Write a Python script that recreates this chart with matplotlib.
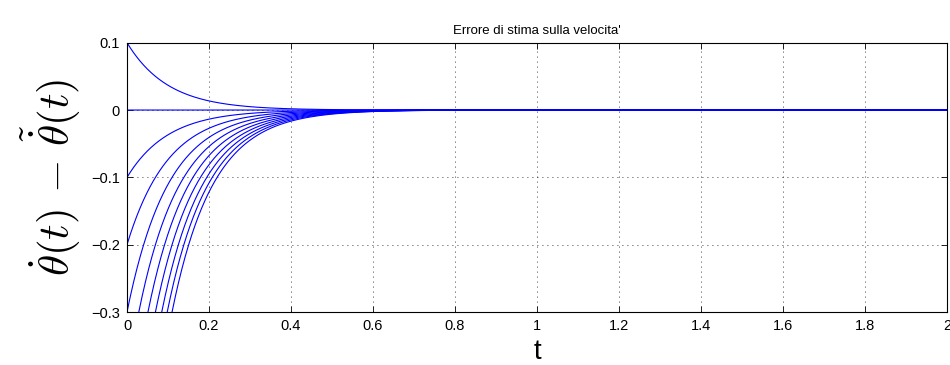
import numpy as np
import matplotlib
matplotlib.use("Agg")
import matplotlib.pyplot as plt

# valori iniziali dell'errore di stima (uno per curva)
initial_errors = [0.1, 0.0, -0.1, -0.2, -0.3, -0.4, -0.5, -0.6, -0.7, -0.8, -0.9]
decay_rate = 10.0   # costante di decadimento
t_end = 2.0

x_ticks = [0, 0.2, 0.4, 0.6, 0.8, 1, 1.2, 1.4, 1.6, 1.8, 2]
x_labels = ["0", "0.2", "0.4", "0.6", "0.8", "1", "1.2", "1.4", "1.6", "1.8", "2"]
y_ticks = [-0.3, -0.2, -0.1, 0, 0.1]
y_labels = ["\u22120.3", "\u22120.2", "\u22120.1", "0", "0.1"]

plt.rcParams['font.family'] = ['Liberation Sans', 'DejaVu Sans']
plt.rcParams['mathtext.fontset'] = 'cm'

fig = plt.figure(figsize=(9.5, 3.65), dpi=100)
ax = fig.add_axes([0.1337, 0.1452, 0.8631, 0.7378])

t = np.linspace(0, t_end, 2001)
for e0 in initial_errors:
    ax.plot(t, e0 * np.exp(-decay_rate * t), color='#0000ff', lw=0.8)

ax.set_xlim(0, 2)
ax.set_ylim(-0.3, 0.1)
ax.set_xticks(x_ticks)
ax.set_xticklabels(x_labels)
ax.set_yticks(y_ticks)
ax.set_yticklabels(y_labels)
ax.tick_params(direction='in', top=True, right=True, labelsize=10.5,
               length=4, width=0.6, pad=5)
ax.grid(True, linestyle=(0, (1, 5)), color='black', linewidth=0.6)
for s in ax.spines.values():
    s.set_linewidth(0.8)

ax.set_title("Errore di stima sulla velocita'", fontsize=9.5, pad=6)
ax.set_xlabel("t", fontsize=20, labelpad=4)
ax.set_ylabel(r"$\dot{\theta}(t)\,-\,\tilde{\dot{\theta}}(t)$", fontsize=31, labelpad=6)

fig.savefig("out.png", dpi=100)
